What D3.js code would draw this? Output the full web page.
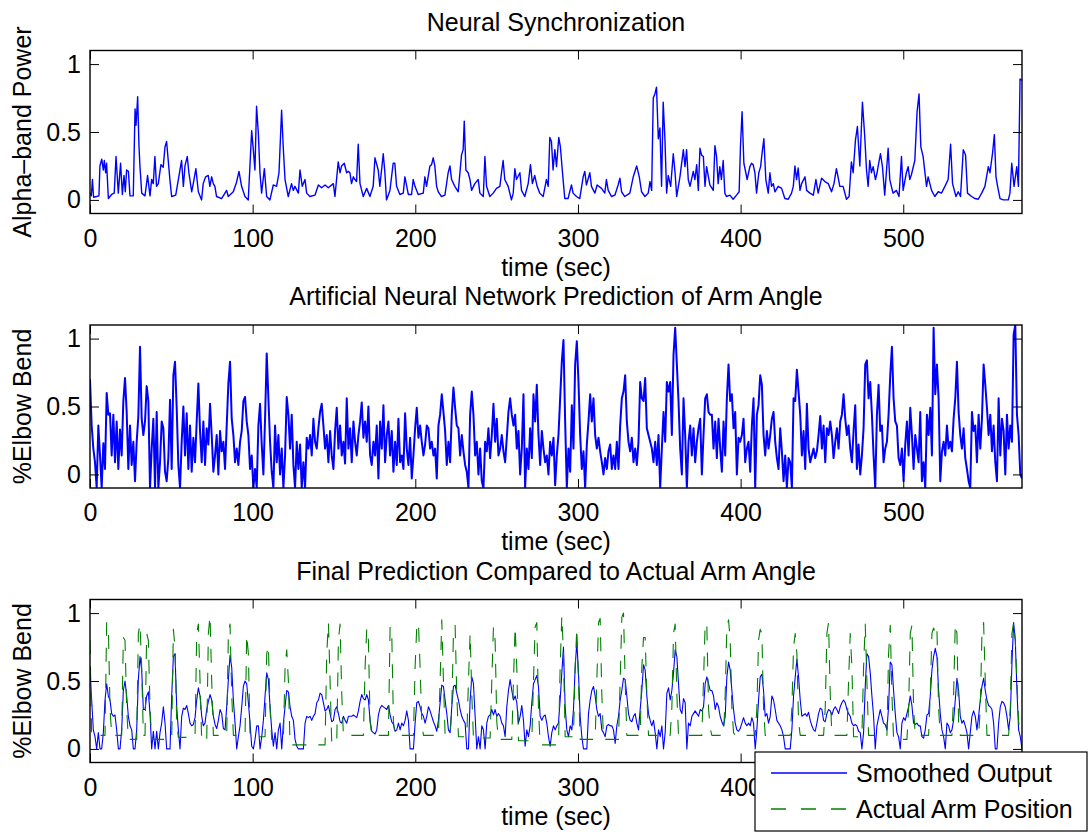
<!DOCTYPE html>
<html><head><meta charset="utf-8">
<script src="https://cdn.jsdelivr.net/npm/d3@7"></script>
<style>body{margin:0;background:#fff} text{font-family:"Liberation Sans",Arial,Helvetica,sans-serif;}</style>
</head><body><svg id="c" width="1089" height="834"></svg>
<script>
// ---------- text ----------
const titles = ["Neural Synchronization", "Artificial Neural Network Prediction of Arm Angle", "Final Prediction Compared to Actual Arm Angle"];
const yLabels = ["Alpha\u2013band Power", "%Elbow Bend", "%Elbow Bend"];
const xLabel = "time (sec)";
const xTicks = [0, 100, 200, 300, 400, 500];
// the last panel's "500" label is hidden behind the legend in the original
const xTickLabelsShown = [[0, 100, 200, 300, 400, 500], [0, 100, 200, 300, 400, 500], [0, 100, 200, 300, 400]];
const yTicks = [0, 0.5, 1];
const yTickLabels = ["0", "0.5", "1"];
const legendLabels = ["Smoothed Output", "Actual Arm Position"];
const xDomain = [0, 573];
const yDomain = [-0.1, 1.1];
const sampleStep = 1.025; // seconds between samples of the regularly sampled series

// ---------- panel 1: alpha-band power, [time, value] ----------
const syncSamples = [[0,0.05],[0.8,0.03],[1.5,0.15],[2.2,0.02],[4,0.025],[5.5,0.03],[6.1,0.25],[7.2,0.3],[8.2,0.22],[8.8,0.29],[9.6,0.2],[10.2,0.27],[11.3,0.01],[13.3,0.04],[14.9,0.05],[16.0,0.32],[17.4,0.05],[18.8,0.27],[19.9,0.04],[20.9,0.18],[21.7,0.06],[22.5,0.22],[23.6,0.21],[24.6,0.03],[26.6,0.03],[27.7,0.67],[28.3,0.55],[29.3,0.76],[30.1,0.4],[30.7,0.25],[31.8,0.05],[33.8,0.03],[35.4,0.18],[36.9,0.03],[37.9,0.15],[38.9,0.12],[39.9,0.32],[40.9,0.1],[42.0,0.12],[43.6,0.26],[45.0,0.24],[46.1,0.39],[47.1,0.43],[48.1,0.29],[49.2,0.14],[50.2,0.025],[52.7,0.035],[55.3,0.22],[56.3,0.29],[57.4,0.1],[58.4,0.25],[59.8,0.32],[60.8,0.2],[62.5,0.06],[63.5,0.12],[65.1,0.23],[66.6,0.06],[68.6,0.0],[69.6,0.12],[71.1,0.17],[72.7,0.18],[73.7,0.1],[74.8,0.17],[75.8,0.12],[76.8,0.1],[77.8,0.025],[80.9,0.01],[84.0,0.07],[85.0,0.025],[88.1,0.06],[90.1,0.13],[91.6,0.21],[93.2,0.1],[95.3,0.025],[97.3,0.0],[99.4,0.51],[100.4,0.37],[101.4,0.22],[102.4,0.69],[103.5,0.49],[104.5,0.2],[105.5,0.05],[107.2,0.23],[108.6,0.025],[110.6,0.0],[112.7,0.11],[114.7,0.1],[116.2,0.2],[117.8,0.66],[118.8,0.39],[119.9,0.15],[121.9,0.025],[123.9,0.12],[125.0,0.07],[126.0,0.1],[128.1,0.05],[129.1,0.22],[130.5,0.1],[132.2,0.15],[133.2,0.05],[135.2,0.025],[138.3,0.035],[140.4,0.11],[142.4,0.09],[144.5,0.11],[146.5,0.09],[149.6,0.12],[150.6,0.025],[152.6,0.28],[153.7,0.2],[154.7,0.25],[156.3,0.27],[157.8,0.2],[158.8,0.21],[159.8,0.2],[160.8,0.12],[161.9,0.17],[162.9,0.15],[163.9,0.135],[164.9,0.41],[166.0,0.12],[168.0,0.025],[170.1,0.085],[172.1,0.025],[174.1,0.1],[175.2,0.31],[177.2,0.22],[178.2,0.1],[180.3,0.34],[181.3,0.2],[182.3,0.0],[184.4,0.07],[186.4,0.27],[187.4,0.27],[188.5,0.1],[190.5,0.04],[192.6,0.05],[193.6,0.17],[195.7,0.04],[197.7,0.04],[198.7,0.15],[199.8,0.1],[201.8,0.04],[204.9,0.05],[205.9,0.17],[206.9,0.1],[209.0,0.25],[210.0,0.26],[211.0,0.31],[212.0,0.25],[213.1,0.1],[214.1,0.06],[216.1,0.025],[218.2,0.035],[220.2,0.2],[221.3,0.25],[222.3,0.15],[224.3,0.1],[226.4,0.06],[228.4,0.33],[229.4,0.37],[230.1,0.58],[231.1,0.22],[232.5,0.2],[233.6,0.15],[234.6,0.07],[236.6,0.12],[238.7,0.15],[239.7,0.05],[241.8,0.025],[242.8,0.32],[243.8,0.1],[245.8,0.025],[247.9,0.05],[249.9,0.085],[252.0,0.1],[253.0,0.2],[254.0,0.29],[255.0,0.15],[257.1,0.1],[259.1,0.0],[260.2,0.05],[261.2,0.23],[262.2,0.15],[264.3,0.2],[265.3,0.07],[267.3,0.025],[269.4,0.12],[270.8,0.26],[272.0,0.12],[273.4,0.18],[274.9,0.1],[276.5,0.05],[278.6,0.025],[280.6,0.15],[281.7,0.1],[282.7,0.46],[283.7,0.43],[284.7,0.22],[285.8,0.37],[286.8,0.245],[288.2,0.46],[289.2,0.39],[290.5,0.2],[291.9,0.01],[293.9,0.01],[296.0,0.11],[297.0,0.05],[299.1,0.025],[301.1,0.01],[303.2,0.17],[304.2,0.21],[305.2,0.11],[307.3,0.2],[308.3,0.1],[310.4,0.05],[311.8,0.11],[314.5,0.085],[316.5,0.05],[317.5,0.15],[318.6,0.07],[320.6,0.025],[322.7,0.035],[324.7,0.11],[325.8,0.16],[326.8,0.06],[328.8,0.025],[331.9,0.05],[334.0,0.17],[336.1,0.25],[337.7,0.17],[339.1,0.06],[341.2,0.025],[343.2,0.05],[344.3,0.135],[345.3,0.07],[346.3,0.75],[347.3,0.78],[348.3,0.83],[349.4,0.45],[350.4,0.53],[351.4,0.1],[352.4,0.72],[353.5,0.44],[354.5,0.05],[355.5,0.18],[357.0,0.1],[358.6,0.34],[359.7,0.2],[360.7,0.025],[362.7,0.17],[364.8,0.37],[365.8,0.245],[366.8,0.37],[367.8,0.15],[368.9,0.1],[370.9,0.21],[371.9,0.15],[373.0,0.26],[374.0,0.07],[375.0,0.38],[376.0,0.33],[377.1,0.32],[378.1,0.1],[379.1,0.245],[381.1,0.11],[383.2,0.07],[384.2,0.4],[385.2,0.32],[386.2,0.12],[387.2,0.245],[388.2,0.15],[389.3,0.29],[390.3,0.05],[391.3,0.025],[393.4,0.035],[395.4,0.005],[397.5,0.035],[399.1,0.06],[399.9,0.39],[400.9,0.65],[402.0,0.27],[403.2,0.2],[404.0,0.15],[405.7,0.245],[406.7,0.27],[407.7,0.26],[408.8,0.2],[409.8,0.05],[411.2,0.2],[412.3,0.245],[413.3,0.355],[414.3,0.45],[415.5,0.15],[417.0,0.05],[418.0,0.2],[419.0,0.1],[420.1,0.12],[421.1,0.06],[423.1,0.1],[425.2,0.085],[427.2,0.01],[429.3,0.005],[431.3,0.05],[432.4,0.1],[433.4,0.25],[434.4,0.15],[435.4,0.235],[436.5,0.07],[437.5,0.12],[439.6,0.17],[440.6,0.07],[442.6,0.05],[444.7,0.035],[446.3,0.15],[447.7,0.05],[449.8,0.16],[451.8,0.135],[453.9,0.12],[455.9,0.06],[457.4,0.12],[458.9,0.23],[459.9,0.17],[461.0,0.1],[463.0,0.1],[465.1,0.005],[466.7,0.025],[468.1,0.28],[469.2,0.2],[470.6,0.44],[471.8,0.54],[473.3,0.25],[474.9,0.72],[476.3,0.47],[477.4,0.22],[478.4,0.1],[479.4,0.29],[480.4,0.2],[481.5,0.245],[482.9,0.15],[483.9,0.2],[484.9,0.27],[486.0,0.34],[487.2,0.245],[488.6,0.035],[490.7,0.38],[491.7,0.15],[493.7,0.05],[495.8,0.07],[497.4,0.025],[498.9,0.32],[499.9,0.07],[501.9,0.2],[503.0,0.245],[504.0,0.15],[505.0,0.185],[507.1,0.29],[508.5,0.65],[509.7,0.78],[510.8,0.39],[512.2,0.32],[514.3,0.1],[515.3,0.17],[517.4,0.07],[519.4,0.025],[521.5,0.06],[523.5,0.05],[525.6,0.1],[527.6,0.15],[529.1,0.41],[530.3,0.12],[532.4,0.025],[533.8,0.06],[535.2,0.025],[536.9,0.37],[538.3,0.33],[539.5,0.05],[542.0,0.025],[544.1,0.01],[546.1,0.005],[548.2,0.05],[550.2,0.1],[552.3,0.245],[553.3,0.2],[554.9,0.345],[556.0,0.48],[557.0,0.17],[558.0,0.1],[559.5,0.01],[561.5,0.0],[564.6,0.0],[565.6,0.05],[566.7,0.27],[568.1,0.1],[569.8,0.245],[570.8,0.1],[571.8,0.89],[573,0.88]];

// ---------- panel 2: ANN prediction (regular samples) ----------
const annPrediction = [
0.70,0.36,0.19,0.09,-0.1,0.36,0.14,-0.1,0.23,0.04,
0.6,0.44,0.45,0.14,0.44,0.09,0.39,0.04,0.33,0.14,
0.54,0.71,0.46,0.04,0.36,0.07,0.24,-0.05,0.24,0.43,
0.94,0.41,0.29,0.39,0.65,0.54,-0.1,0.19,0.41,-0.1,
0.46,-0.1,0.09,0.39,0.34,0.02,-0.05,0.12,0.55,0.04,
0.73,0.83,0.49,0.07,-0.1,0.24,0.5,0.14,0.45,0.04,
0.36,0.02,0.27,0.09,0.39,0.67,0.32,0.09,0.39,0.07,
0.34,0.22,0.52,0.29,0.02,0.14,0.29,0.0,0.32,0.17,
0.24,0.04,0.36,0.67,0.83,0.41,0.29,0.09,0.19,0.07,
0.24,0.32,0.54,0.57,0.39,0.29,0.04,0.14,-0.1,0.04,
-0.1,0.36,0.52,0.22,0.0,0.41,0.89,0.56,0.24,0.02,
-0.1,0.36,0.09,0.29,0.0,0.19,-0.1,0.14,0.57,0.44,
0.19,0.44,0.07,-0.1,0.24,0.04,0.22,-0.1,0.09,-0.1,
0.27,0.19,0.29,0.14,0.41,0.24,0.19,0.34,0.46,0.52,
0.36,0.19,0.29,0.09,0.32,0.14,0.04,0.32,0.49,0.19,
0.36,0.14,0.24,0.08,0.56,0.19,0.34,0.09,0.39,0.24,
0.14,0.29,0.39,0.53,0.27,0.39,0.24,0.5,0.14,0.07,
0.24,0.14,0.36,-0.03,0.39,0.19,0.51,0.09,0.29,0.39,
0.14,0.32,0.02,0.24,0.07,0.41,0.09,
0.14,0.04,0.45,0.19,0.07,0.27,-0.03,0.14,0.34,0.49,
0.27,0.36,0.24,0.14,0.22,0.36,0.34,0.19,0.24,0.14,
0.19,-0.03,0.36,0.44,0.59,0.46,0.32,0.07,0.24,0.09,
0.44,0.64,0.49,0.36,0.34,0.14,0.29,0.17,0.07,0.02,
-0.1,0.44,0.61,0.44,0.14,0.24,0.0,0.19,-0.05,-0.1,
0.24,0.17,0.34,0.12,0.29,0.52,0.24,0.41,0.14,0.19,
0.29,0.17,0.09,0.27,0.46,0.56,0.44,0.36,0.44,0.19,
0.32,0.0,0.19,0.59,-0.1,0.19,0.04,0.34,0.12,0.59,
0.39,0.66,0.29,0.07,0.32,0.19,0.09,0.14,0.0,0.24,
0.14,0.27,-0.08,0.14,0.29,0.56,0.83,0.99,0.39,-0.1,
0.19,0.02,0.51,0.19,0.81,0.98,0.68,0.29,0.04,0.17,
-0.1,0.22,0.39,0.59,0.39,0.56,0.29,0.19,0.27,0.17,
0.09,0.0,0.12,0.04,0.17,0.22,0.04,0.14,0.04,0.24,
0.04,0.36,0.56,0.61,0.73,0.39,0.24,0.17,0.27,0.09,
0.19,0.07,0.24,0.68,0.56,0.54,0.71,0.34,0.29,0.24,
0.19,0.09,0.24,0.07,0.29,-0.1,0.19,0.46,0.24,0.68,
0.61,0.68,0.29,0.88,1.08,0.81,0.54,0.19,0.0,0.56,
0.29,-0.1,0.24,0.36,0.14,0.34,0.09,0.24,0.34,0.41,
0.0,0.29,0.56,0.59,0.46,0.44,
0.44,0.19,0.39,0.12,0.41,0.19,0.02,0.39,0.14,0.56,
0.81,0.54,0.59,0.34,0.46,0.0,0.27,0.24,0.29,0.41,
0.09,0.19,0.24,0.02,0.36,0.56,-0.1,0.44,0.51,0.73,
0.66,0.29,0.14,0.32,0.19,0.29,0.41,0.46,0.24,0.12,
0.04,0.34,0.17,-0.05,0.14,-0.1,0.12,0.09,-0.1,0.56,
0.54,0.77,0.61,0.44,0.14,0.32,0.04,0.52,0.19,0.09,
0.14,0.19,0.12,0.17,0.29,0.43,0.19,0.36,0.09,0.34,
0.29,0.39,0.29,0.12,0.24,0.34,0.19,0.39,0.44,0.59,
0.41,0.29,0.36,0.19,0.09,0.32,0.51,0.04,0.22,0.0,
0.14,0.34,0.81,0.84,0.56,0.68,0.44,0.14,-0.1,0.44,
0.66,0.32,0.36,0.09,0.19,0.24,0.44,0.73,0.94,0.56,
0.39,0.36,0.12,0.07,0.19,-0.05,0.22,0.39,0.14,0.49,
0.29,0.04,0.29,0.19,0.09,0.46,-0.05,0.09,-0.1,0.44,
0.29,0.49,0.14,1.08,0.59,0.81,0.56,-0.05,0.17,0.24,
0.14,0.36,0.19,0.24,0.17,0.41,0.56,0.83,0.46,0.29,
0.19,0.34,0.12,0.04,-0.05,-0.1,0.46,0.32,0.36,0.09,
0.44,0.19,0.41,0.81,0.66,0.49,0.29,0.44,0.17,0.36,
0.09,-0.05,0.56,0.14,0.41,0.32,0.0,0.44,0.19,0.36,
0.24,1.03,1.1,0.44,0.29,0.0,-0.03];

// ---------- panel 3: smoothed output (regular samples) ----------
const smoothedOutput = [
0.59,0.36,0.14,0.09,0.0,0.12,0.0,0.0,0.12,0.36,
0.48,0.39,0.36,0.26,0.24,0.25,0.14,0.0,0.0,0.14,
0.43,0.5,0.39,0.24,0.17,0.14,0.0,0.0,0.14,0.51,
0.68,0.58,0.29,0.29,0.39,0.42,0.26,0.0,0.13,0.0,
0.13,0.0,0.12,0.19,0.31,0.19,0.0,0.0,0.0,0.39,
0.68,0.7,0.31,0.14,0.0,0.24,0.3,0.29,0.32,0.26,
0.19,0.17,0.18,0.23,0.36,0.45,0.39,0.24,0.17,0.19,
0.29,0.35,0.4,0.36,0.24,0.18,0.15,0.21,0.29,0.26,
0.15,0.14,0.31,0.51,0.69,0.6,0.36,0.19,0.0,0.09,
0.17,0.31,0.46,0.5,0.48,0.34,0.19,0.02,0.0,0.07,
0.17,0.17,0.0,0.09,0.21,0.39,0.56,0.51,0.31,0.14,
0.02,0.12,0.0,0.14,0.19,0.0,0.19,0.31,0.43,0.42,
0.31,0.24,0.21,0.07,0.02,0.0,0.0,0.0,0.0,0.19,
0.24,0.23,0.24,0.21,0.24,0.26,0.34,0.36,0.41,0.4,
0.34,0.28,0.29,0.32,0.26,0.2,0.21,0.29,0.31,0.26,
0.2,0.19,0.24,0.21,0.19,0.24,0.24,0.24,0.25,0.24,
0.23,0.28,0.35,0.4,0.37,0.36,0.4,0.36,0.21,0.13,
0.12,0.11,0.14,0.25,0.3,0.32,0.31,0.3,0.29,0.32,
0.25,0.2,0.18,0.13,0.14,0.19,0.14,
0.19,0.17,0.21,0.28,0.21,0.0,0.0,0.0,0.19,0.34,
0.35,0.31,0.26,0.24,0.19,0.24,0.31,0.28,0.24,0.2,
0.17,0.13,0.21,0.34,0.47,0.46,0.36,0.26,0.14,0.12,
0.31,0.46,0.47,0.41,0.36,0.29,0.24,0.21,0.19,0.0,
0.0,0.36,0.53,0.48,0.24,0.0,0.09,0.0,0.17,0.14,
0.0,0.19,0.24,0.25,0.29,0.25,0.29,0.24,0.26,0.24,
0.19,0.17,0.09,0.31,0.43,0.51,0.43,0.36,0.39,0.34,
0.19,0.24,0.32,0.21,0.02,0.14,0.09,0.17,0.34,0.48,
0.51,0.54,0.46,0.24,0.21,0.24,0.25,0.19,0.09,0.02,
0.12,0.17,0.14,0.17,0.19,0.36,0.56,0.75,0.31,0.14,
0.09,0.17,0.14,0.29,0.6,0.79,0.56,0.24,0.09,0.0,
0.0,0.0,0.26,0.36,0.43,0.46,0.39,0.29,0.24,0.26,
0.14,0.12,0.09,0.17,0.18,0.17,0.17,0.14,0.04,0.17,
0.24,0.36,0.43,0.52,0.51,0.39,0.26,0.21,0.2,0.24,
0.26,0.19,0.14,0.29,0.43,0.62,0.58,0.39,0.26,0.21,
0.17,0.21,0.12,0.0,0.14,0.09,0.17,0.0,0.12,0.41,
0.45,0.36,0.43,0.56,0.73,0.68,0.48,0.29,0.26,0.37,
0.34,0.0,0.19,0.17,0.24,0.26,0.28,0.26,0.24,0.29,
0.28,0.31,0.48,0.53,0.48,0.43,
0.43,0.39,0.29,0.34,0.31,0.24,0.2,0.17,0.24,0.53,
0.64,0.58,0.43,0.29,0.19,0.14,0.13,0.15,0.19,0.23,
0.19,0.17,0.19,0.17,0.23,0.19,0.0,0.14,0.36,0.53,
0.55,0.43,0.24,0.26,0.19,0.24,0.39,0.36,0.29,0.21,
0.19,0.17,0.14,0.09,0.0,0.0,0.0,0.0,0.14,0.39,
0.53,0.66,0.53,0.36,0.24,0.25,0.26,0.24,0.27,0.21,
0.17,0.14,0.13,0.19,0.26,0.3,0.29,0.21,0.2,0.26,
0.29,0.28,0.25,0.29,0.31,0.29,0.26,0.31,0.34,0.36,
0.34,0.29,0.26,0.24,0.19,0.17,0.18,0.17,0.13,0.12,
0.0,0.12,0.46,0.7,0.68,0.56,0.39,0.24,0.0,0.17,
0.23,0.29,0.24,0.19,0.18,0.14,0.31,0.64,0.62,0.43,
0.26,0.12,0.09,0.0,0.19,0.23,0.21,0.26,0.31,0.39,
0.32,0.19,0.18,0.19,0.17,0.17,0.09,0.08,0.14,0.25,
0.26,0.39,0.58,0.68,0.74,0.68,0.43,0.26,0.14,0.09,
0.0,0.19,0.17,0.12,0.14,0.21,0.36,0.52,0.43,0.24,
0.19,0.21,0.17,0.12,0.0,0.12,0.24,0.28,0.24,0.14,
0.24,0.36,0.46,0.52,0.43,0.36,0.32,0.31,0.29,0.19,
0.0,0.0,0.19,0.31,0.35,0.34,0.31,0.24,0.14,0.24,
0.63,0.93,0.8,0.43,0.14,0.09,0.0];

// ---------- panel 3: actual arm position (regular samples) ----------
const actualArm = [
0.8,0.1,0.1,0.1,0.1,0.1,0.1,0.1,0.1,0.1,
0.93,0.9,0.3,0.1,0.1,0.1,0.1,0.1,0.1,0.1,
0.82,0.8,0.3,0.07,0.07,0.07,0.07,0.07,0.07,0.85,
0.92,0.6,0.1,0.1,0.85,0.8,0.3,0.07,0.07,0.07,
0.07,0.07,0.07,0.07,0.07,0.07,0.07,0.07,0.07,0.07,
0.88,0.75,0.2,0.085,0.085,0.085,0.085,0.085,0.085,0.085,
0.085,0.085,0.085,0.085,0.85,0.92,0.5,0.06,0.06,0.06,
0.06,0.85,0.98,0.5,0.1,0.1,0.1,0.1,0.1,0.1,
0.1,0.1,0.1,0.85,0.92,0.4,0.1,0.1,0.1,0.1,
0.1,0.1,0.1,0.1,0.84,0.7,0.09,0.09,0.09,0.09,
0.09,0.09,0.09,0.09,0.09,0.09,0.7,0.76,0.3,0.07,
0.07,0.07,0.07,0.07,0.07,0.07,0.07,0.6,0.73,0.5,
0.03,0.03,0.03,0.03,0.03,0.03,0.03,0.03,0.03,0.03,
0.03,0.03,0.03,0.03,0.03,0.03,0.03,0.03,0.03,0.03,
0.03,0.03,0.7,0.93,0.5,0.04,0.04,0.04,0.04,0.8,
0.92,0.4,0.1,0.1,0.1,0.1,0.1,0.1,0.1,0.1,
0.1,0.1,0.1,0.1,0.1,0.6,0.89,0.8,0.2,0.1,
0.1,0.1,0.1,0.1,0.1,0.1,0.1,0.1,0.1,0.1,
0.9,0.85,0.2,0.1,0.1,0.1,0.1,0.1,0.1,0.1,
0.1,0.1,0.1,0.1,0.1,0.6,0.9,0.93,0.6,0.2,
0.1,0.1,0.1,0.1,0.1,0.1,0.1,0.1,0.1,0.1,
0.5,0.95,0.5,0.1,0.1,0.1,0.1,0.3,0.85,0.91,
0.4,0.09,0.09,0.09,0.09,0.09,0.09,0.5,0.85,0.4,
0.08,0.08,0.08,0.08,0.08,0.08,0.08,0.08,0.08,0.08,
0.08,0.5,0.9,0.8,0.2,0.07,0.07,0.07,0.07,0.07,
0.07,0.07,0.07,0.07,0.5,0.9,0.6,0.06,0.06,0.06,
0.06,0.06,0.06,0.06,0.06,0.06,0.5,0.9,0.93,0.3,
0.03,0.03,0.03,0.03,0.03,0.03,0.03,0.03,0.03,0.03,
0.03,0.03,0.6,0.98,0.7,0.09,0.09,0.09,0.09,0.09,
0.09,0.6,0.89,0.5,0.07,0.07,0.07,0.07,0.07,0.07,
0.07,0.07,0.07,0.07,0.5,0.93,0.96,0.4,0.07,0.07,
0.07,0.07,0.07,0.07,0.07,0.07,0.07,0.07,0.5,0.97,
1.0,0.5,0.1,0.1,0.1,0.1,0.1,0.1,0.1,0.1,
0.1,0.6,0.82,0.82,0.4,0.1,0.1,0.1,0.1,0.1,
0.1,0.1,0.1,0.1,0.1,0.1,0.1,0.1,0.1,0.3,
0.85,0.92,0.4,0.1,0.1,0.1,0.1,0.1,0.1,0.1,
0.1,0.1,0.1,0.1,0.1,0.1,0.1,0.1,0.5,0.93,
0.9,0.3,0.15,0.1,0.1,0.1,0.1,0.1,0.1,0.1,
0.1,0.4,0.9,0.95,0.8,0.3,0.12,0.1,0.1,0.1,
0.1,0.1,0.1,0.1,0.1,0.1,0.1,0.1,0.1,0.1,
0.3,0.8,0.88,0.85,0.3,0.1,0.1,0.1,0.1,0.1,
0.1,0.1,0.1,0.1,0.1,0.1,0.1,0.1,0.1,0.1,
0.1,0.3,0.75,0.85,0.7,0.2,0.1,0.1,0.1,0.1,
0.1,0.1,0.1,0.1,0.1,0.1,0.1,0.1,0.1,0.1,
0.1,0.3,0.85,0.93,0.4,0.1,0.1,0.1,0.1,0.1,
0.1,0.1,0.1,0.1,0.1,0.5,0.85,0.6,0.09,0.09,
0.09,0.09,0.09,0.09,0.6,0.92,0.5,0.1,0.1,0.1,
0.1,0.1,0.1,0.1,0.1,0.1,0.1,0.1,0.1,0.7,
0.91,0.4,0.07,0.07,0.07,0.07,0.07,0.07,0.07,0.07,
0.07,0.3,0.85,0.91,0.3,0.1,0.1,0.1,0.1,0.1,
0.1,0.1,0.1,0.1,0.4,0.85,0.89,0.85,0.89,0.3,
0.1,0.1,0.1,0.1,0.1,0.1,0.1,0.1,0.4,0.92,
0.85,0.2,0.1,0.1,0.1,0.1,0.1,0.1,0.1,0.1,
0.1,0.1,0.1,0.1,0.3,0.85,0.93,0.5,0.1,0.1,
0.1,0.1,0.1,0.1,0.1,0.1,0.1,0.1,0.1,0.1,
0.1,0.1,0.3,0.85,0.93,0.8,0.5,0.2,0.12,0.12];

// ---------- drawing ----------
const W = 1089, H = 834;
const left = 90, right = 1022, panelTops = [50.5, 325, 599.5], panelH = 163;
const FONT = 25, TICK = 9;
const BLUE = "#0000ff", GREEN = "#008000";

const regular = vals => vals.map((v, k) => [k * sampleStep, v]);

const panels = [
  {series: [{data: syncSamples, color: BLUE, width: 1.4}]},
  {series: [{data: regular(annPrediction), color: BLUE, width: 2}]},
  {series: [{data: regular(smoothedOutput), color: BLUE, width: 1.1},
            {data: regular(actualArm), color: GREEN, width: 1.1, dash: "14,12"}]}
];

const svg = d3.select("#c");
svg.append("rect").attr("width", W).attr("height", H).attr("fill", "#fff");
const x = d3.scaleLinear().domain(xDomain).range([left, right]);

panels.forEach((p, i) => {
  const top = panelTops[i], bottom = top + panelH;
  const y = d3.scaleLinear().domain(yDomain).range([bottom, top]);
  const clipId = "clip" + i;
  svg.append("clipPath").attr("id", clipId).append("rect")
    .attr("x", left).attr("y", top).attr("width", right - left).attr("height", panelH);
  const g = svg.append("g");
  const line = d3.line().x(d => x(d[0])).y(d => y(d[1]));
  p.series.forEach(s => {
    g.append("path").datum(s.data).attr("d", line)
      .attr("clip-path", `url(#${clipId})`)
      .attr("fill", "none").attr("stroke", s.color).attr("stroke-width", s.width)
      .attr("stroke-linejoin", "round")
      .attr("stroke-dasharray", s.dash || null);
  });

  const styleAxis = sel => {
    sel.attr("font-size", FONT).attr("font-family", '"Liberation Sans", Arial, sans-serif');
    sel.select(".domain").remove();
    sel.selectAll(".tick line").attr("stroke", "#000").attr("stroke-width", 1);
  };
  const shown = xTickLabelsShown[i];
  svg.append("g").attr("transform", `translate(0,${bottom})`)
    .call(d3.axisBottom(x).tickValues(xTicks).tickSize(-TICK).tickPadding(15.5)
      .tickFormat(d => shown.includes(d) ? d3.format("d")(d) : ""))
    .call(styleAxis);
  svg.append("g").attr("transform", `translate(0,${top})`)
    .call(d3.axisTop(x).tickValues(xTicks).tickSize(-TICK).tickFormat(""))
    .call(styleAxis);
  svg.append("g").attr("transform", `translate(${left},0)`)
    .call(d3.axisLeft(y).tickValues(yTicks).tickSize(-TICK).tickPadding(9).tickFormat((d, k) => yTickLabels[k]))
    .call(styleAxis);
  svg.append("g").attr("transform", `translate(${right},0)`)
    .call(d3.axisRight(y).tickValues(yTicks).tickSize(-TICK).tickFormat(""))
    .call(styleAxis);

  svg.append("rect").attr("x", left).attr("y", top).attr("width", right - left).attr("height", panelH)
    .attr("fill", "none").attr("stroke", "#000").attr("stroke-width", 1.4);

  svg.append("text").attr("x", (left + right) / 2).attr("y", top - 20)
    .attr("text-anchor", "middle").attr("font-size", FONT).text(titles[i]);
  svg.append("text").attr("x", (left + right) / 2).attr("y", bottom + 62)
    .attr("text-anchor", "middle").attr("font-size", FONT).text(xLabel);
  svg.append("text").attr("transform", `translate(31,${(top + bottom) / 2}) rotate(-90)`)
    .attr("text-anchor", "middle").attr("font-size", FONT).text(yLabels[i]);
});

// legend
const lg = svg.append("g");
lg.append("rect").attr("x", 755).attr("y", 752).attr("width", 332).attr("height", 79)
  .attr("fill", "#fff").attr("stroke", "#000").attr("stroke-width", 1.2);
const legendStyles = [{color: BLUE, dash: null}, {color: GREEN, dash: "15,15"}];
legendLabels.forEach((lab, k) => {
  const cy = 773 + k * 36;
  lg.append("line").attr("x1", 771).attr("x2", 847).attr("y1", cy).attr("y2", cy)
    .attr("stroke", legendStyles[k].color).attr("stroke-width", 1.4)
    .attr("stroke-dasharray", legendStyles[k].dash);
  lg.append("text").attr("x", 856).attr("y", cy + 9).attr("font-size", FONT).text(lab);
});
</script></body></html>
